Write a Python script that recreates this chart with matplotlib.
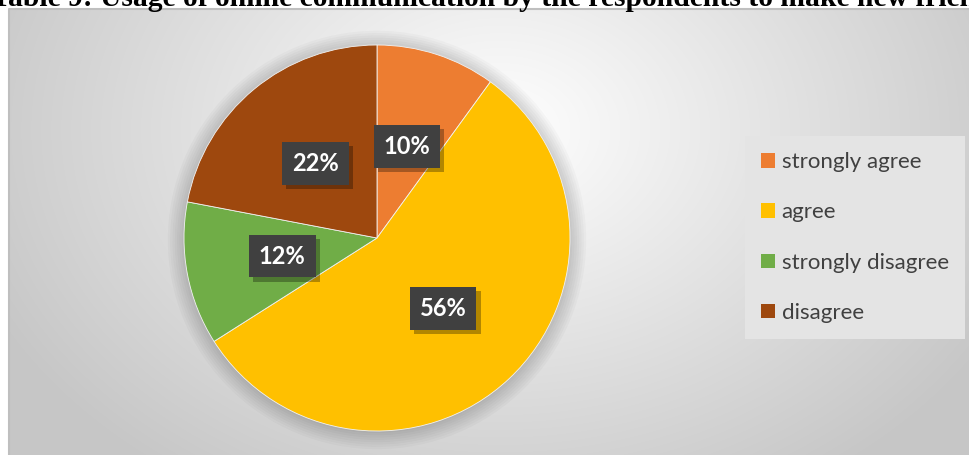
import matplotlib
matplotlib.use('Agg')
import matplotlib.pyplot as plt
import matplotlib.patheffects as pe
from matplotlib.patches import Circle
import numpy as np

# data
categories = ['strongly agree', 'agree', 'strongly disagree', 'disagree']
shares = [10, 56, 12, 22]
colors = ['#ED7D31', '#FFC000', '#70AD47', '#9E480E']
title = 'Table 9: Usage of online communication by the respondents to make new friends'

W, H = 969, 455
fig = plt.figure(figsize=(W / 100, H / 100), dpi=100)
fig.patch.set_facecolor('white')

# chart area with radial gradient background
x0, y0 = 9, 9  # top-left corner of chart area in pixels
bg = fig.add_axes([x0 / W, 0, 1 - x0 / W, 1 - y0 / H])
bg.set_axis_off()
gx, gy = np.meshgrid(np.arange(x0, W), np.arange(y0, H))
d = np.hypot((gx - 500) / 560.0, (gy - 130) / 420.0)
v = np.clip(1.0 - 0.22 * d, 0.78, 1.0)
img = np.dstack([v, v, v])
bg.imshow(img, aspect='auto', extent=(0, 1, 0, 1), origin='upper')
bg.set_xlim(0, 1)
bg.set_ylim(0, 1)
bg.plot([0, 0, 1], [0, 1, 1], color='#bfbfbf', lw=1.5, transform=bg.transAxes, clip_on=False)

# title (partly cut off at the top, as in the source)
fig.text(0.513, 1 - 6 / H, title, ha='center', va='baseline',
         fontsize=21.3, fontweight='bold', family='Liberation Serif', color='black')

# pie
cx, cy, r = 377, 238, 193
ax = fig.add_axes([(cx - r) / W, (H - cy - r) / H, 2 * r / W, 2 * r / H])
ax.set_aspect('equal')
ax.set_axis_off()
ax.patch.set_alpha(0)

# soft shadow under the pie
for k in range(8):
    ax.add_patch(Circle((0.0, -0.01), 1.0 + 0.012 * k, color='black', alpha=0.025,
                        lw=0, zorder=0, clip_on=False))

wedges, texts, autotexts = ax.pie(
    shares, colors=colors, startangle=90, counterclock=False, radius=1.0,
    autopct='%d%%', pctdistance=0.5,
    wedgeprops=dict(edgecolor='#f2f2f2', linewidth=0.6),
    textprops=dict(color='white', fontsize=17, fontweight='bold', family='Lato'))
ax.set_xlim(-1, 1)
ax.set_ylim(-1, 1)

for t in autotexts:
    t.set_bbox(dict(boxstyle='square,pad=0.42', facecolor='#404040', edgecolor='none'))
    t.get_bbox_patch().set_path_effects([
        pe.SimplePatchShadow(offset=(3, -3), shadow_rgbFace='black', alpha=0.3), pe.Normal()])

# legend
leg = fig.legend(wedges, categories, loc='upper left',
                 bbox_to_anchor=(745 / W, 1 - 136 / H),
                 prop=dict(family='Lato', size=16), labelcolor='#404040',
                 frameon=True, fancybox=False, facecolor='#e4e4e4', edgecolor='none',
                 framealpha=1, handlelength=0.62, handleheight=0.62, handletextpad=0.3,
                 labelspacing=1.36, borderpad=0.73, borderaxespad=0)
for h in leg.legend_handles:
    h.set_edgecolor('none')

fig.savefig('out.png', dpi=100)
